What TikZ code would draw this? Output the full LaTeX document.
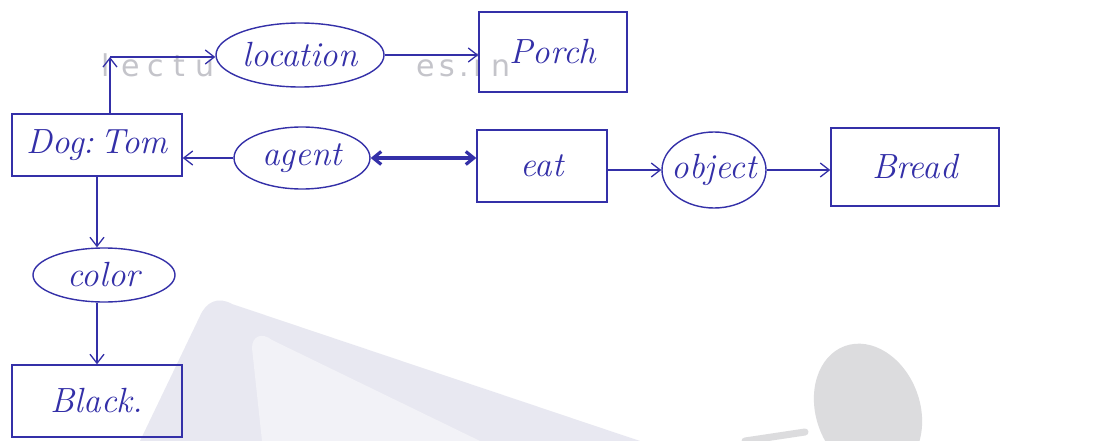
\documentclass[tikz,border=0pt]{standalone}
\usepackage{fontspec}
\newfontfamily\wmfont{DejaVu Sans}
\usetikzlibrary{shapes.geometric,arrows.meta}
\definecolor{ink}{RGB}{52,48,168}
\definecolor{wmtext}{RGB}{196,196,202}
\definecolor{wmfill}{RGB}{232,232,241}
\definecolor{wminner}{RGB}{242,242,247}
\definecolor{wmdot}{RGB}{220,220,222}
\begin{document}
\begin{tikzpicture}[x=1pt,y=-1pt,
  font=\fontsize{35}{38}\selectfont\itshape,
  concept/.style={draw=ink,line width=1.4pt,text=ink,rectangle,inner sep=0pt},
  relation/.style={draw=ink,fill=white,line width=1.4pt,text=ink,ellipse,inner xsep=-12pt,inner ysep=-8pt},
  stamp/.style={text=wmtext,font=\fontsize{30}{30}\selectfont\wmfont,anchor=base west,inner sep=0pt},
  link/.style={draw=ink,line width=1.3pt,-{Straight Barb[length=9pt,width=14pt]}},
  heavylink/.style={draw=ink,line width=3.2pt,{Straight Barb[length=8pt,width=13pt]}-{Straight Barb[length=8pt,width=13pt]}}]
  \useasboundingbox (0,0) rectangle (1099,441);
  \fill[white] (0,0) rectangle (1099,441);

  % faint logo in the background
  \fill[wmfill] (140,441) -- (200,316) .. controls (206,302) and (218,296) .. (232,304) -- (640,441) -- cycle;
  \fill[wminner] (252,348) .. controls (252,336) and (262,332) .. (272,340) -- (480,441) -- (262,441) -- cycle;
  \fill[wmdot, rotate around={20:(868,410)}] (868,410) ellipse[x radius=52, y radius=68];
  \draw[wmdot,line width=7pt,line cap=round] (745,441) -- (805,432);
  % site stamp, partly covered by the location relation
  \node[stamp] (wmleft) at (101,77) {l\hspace{12pt}e\hspace{8pt}c\hspace{9pt}t\hspace{10pt}u};
  \node[stamp] (wmright) at (416,77) {e\hspace{5pt}s\hspace{4pt}.\hspace{5pt}i\hspace{9pt}n};

  % concepts and relations
  \node[concept,minimum width=170,minimum height=62] (dog) at (97,145) {Dog:\,Tom};
  \node[relation,minimum width=168,minimum height=64] (location) at (300,55) {location};
  \node[concept,minimum width=148,minimum height=80] (porch) at (553,52) {Porch};
  \node[relation,minimum width=136,minimum height=62] (agent) at (302,158) {agent};
  \node[concept,minimum width=130,minimum height=72] (eat) at (542,166) {eat};
  \node[relation,minimum width=104,minimum height=76] (object) at (714,170) {object};
  \node[concept,minimum width=168,minimum height=78] (bread) at (915,167) {Bread};
  \node[relation,minimum width=142,minimum height=54] (color) at (104,275) {color};
  \node[concept,minimum width=170,minimum height=72] (black) at (97,401) {Black.};

  % connectors
  \coordinate (bend) at (110,57);
  \draw[link] (dog.north -| bend) -- (bend);
  \draw[link] (bend) -- (bend -| location.west);
  \draw[link] (location.east) -- (location.east -| porch.west);
  \draw[link] (agent.west) -- (agent.west -| dog.east);
  \draw[heavylink] (agent.east) -- (agent.east -| eat.west);
  \draw[link] (eat.east |- object.west) -- (object.west);
  \draw[link] (object.east) -- (object.east -| bread.west);
  \draw[link] (dog.south) -- (color.north -| dog.south);
  \draw[link] (color.south -| dog.south) -- (black.north -| dog.south);
\end{tikzpicture}
\end{document}
